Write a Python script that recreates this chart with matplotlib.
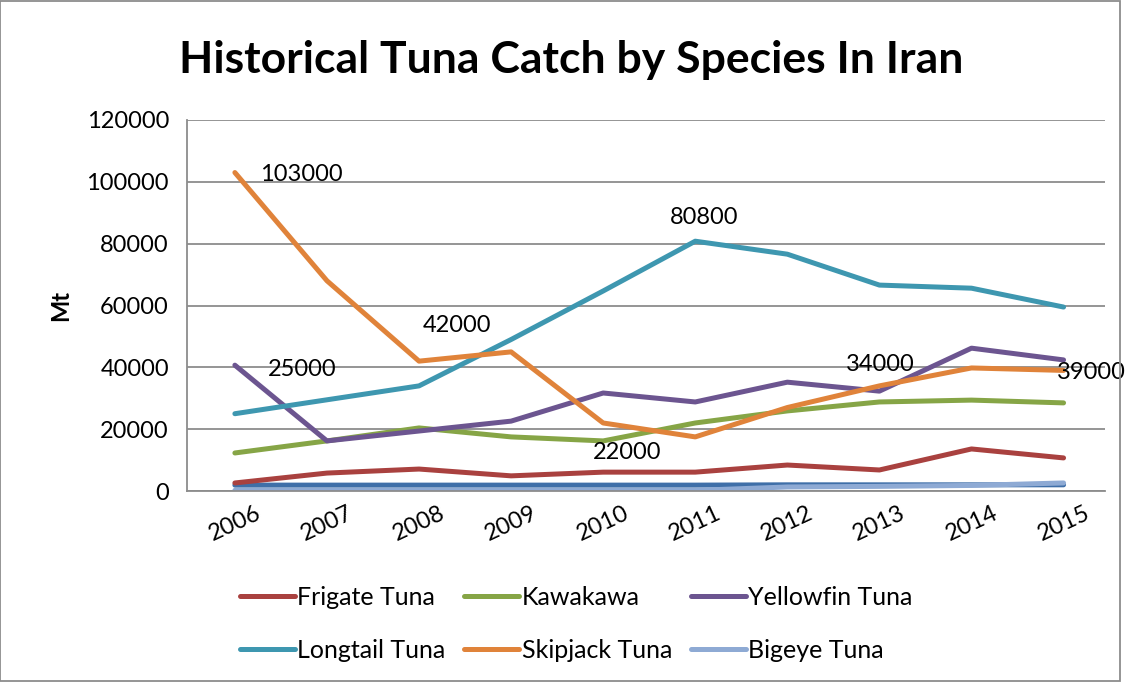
import matplotlib
matplotlib.use("Agg")
import matplotlib.pyplot as plt
from matplotlib.patches import Rectangle

plt.rcParams['font.family'] = ['Lato', 'DejaVu Sans']

years = [2006, 2007, 2008, 2009, 2010, 2011, 2012, 2013, 2014, 2015]

frigate = [2600, 5800, 7100, 4900, 6100, 6100, 8400, 6800, 13600, 10700]
kawakawa = [12300, 16200, 20400, 17500, 16200, 22000, 25900, 28800, 29400, 28500]
yellowfin = [40700, 16200, 19400, 22600, 31700, 28800, 35200, 32300, 46200, 42400]
longtail = [25000, 29500, 34000, 49000, 64700, 80800, 76600, 66600, 65600, 59500]
skipjack = [103000, 68000, 42000, 45000, 22000, 17500, 27000, 34000, 39800, 39000]
bigeye = [200, 200, 200, 200, 200, 200, 1300, 1500, 1800, 2600]
other = [1900, 1900, 1900, 1900, 1900, 1900, 2000, 2000, 2000, 2000]

series = [
    ("Frigate Tuna", frigate, "#a9413f"),
    ("Kawakawa", kawakawa, "#86a546"),
    ("Yellowfin Tuna", yellowfin, "#6c5590"),
    ("Longtail Tuna", longtail, "#3e97b0"),
    ("Skipjack Tuna", skipjack, "#e0833a"),
    ("Bigeye Tuna", bigeye, "#8eaad4"),
]

fs = 17

fig = plt.figure(figsize=(11.31, 6.82), dpi=100)
ax = fig.add_axes([187 / 1131, 1 - 491 / 682, (1105 - 187) / 1131, (491 - 120) / 682])

# unlabeled dark blue series drawn first, under bigeye
ax.plot(years, other, color="#3f6fa8", lw=3.6, solid_capstyle='round')
handles = {}
for name, vals, col in series:
    h, = ax.plot(years, vals, color=col, lw=3.6, solid_capstyle='round', label=name)
    handles[name] = h

ax.set_ylim(0, 120000)
ax.set_xlim(2005.48, 2015.45)
ax.set_yticks(range(0, 120001, 20000))
ax.set_xticks(years)
ax.set_xticklabels([str(y) for y in years], rotation=25, ha='center', fontsize=fs)
ax.tick_params(axis='y', labelsize=fs, length=0, pad=13)
ax.tick_params(axis='x', length=0, pad=8)
ax.grid(axis='y', color='#8c8c8c', lw=1.3)
ax.set_axisbelow(True)
for s in ['top', 'right']:
    ax.spines[s].set_visible(False)
ax.spines['left'].set_color('#8c8c8c')
ax.spines['bottom'].set_color('#8c8c8c')
ax.spines['left'].set_linewidth(1.3)
ax.spines['bottom'].set_linewidth(1.3)
ax.set_ylabel("Mt", fontsize=fs, fontweight='bold', labelpad=10)

labels = [
    (2006, skipjack[0], "103000", (25, -2), 'left'),
    (2006, longtail[0], "25000", (33, 44), 'left'),
    (2008, skipjack[2], "42000", (38, 36), 'center'),
    (2011, longtail[5], "80800", (9, 24), 'center'),
    (2010, skipjack[4], "22000", (24, -30), 'center'),
    (2013, skipjack[7], "34000", (1, 21), 'center'),
    (2015, skipjack[9], "39000", (-7, -2), 'left'),
]
for x, y, t, off, ha in labels:
    ax.annotate(t, xy=(x, y), xytext=off, textcoords='offset pixels',
                ha=ha, va='center', fontsize=fs)

fig.text(571 / 1131, 1 - 60 / 682, "Historical Tuna Catch by Species In Iran",
         ha='center', va='center', fontsize=32, fontweight='bold')

# legend filled column by column, so order gives rows as in the reference
order = ["Frigate Tuna", "Longtail Tuna", "Kawakawa",
         "Skipjack Tuna", "Yellowfin Tuna", "Bigeye Tuna"]
leg = fig.legend([handles[n] for n in order], order, ncol=3,
                 loc='center', bbox_to_anchor=(576 / 1131, 1 - 624 / 682),
                 frameon=False, fontsize=18, handlelength=2.2,
                 handletextpad=0.1, columnspacing=0.75, labelspacing=1.2)

fig.patches.append(Rectangle((0.0, 0.002), 1120 / 1131, 0.996, transform=fig.transFigure,
                             fill=False, edgecolor='#8c8c8c', lw=1.3))

fig.savefig("out.png", dpi=100)
